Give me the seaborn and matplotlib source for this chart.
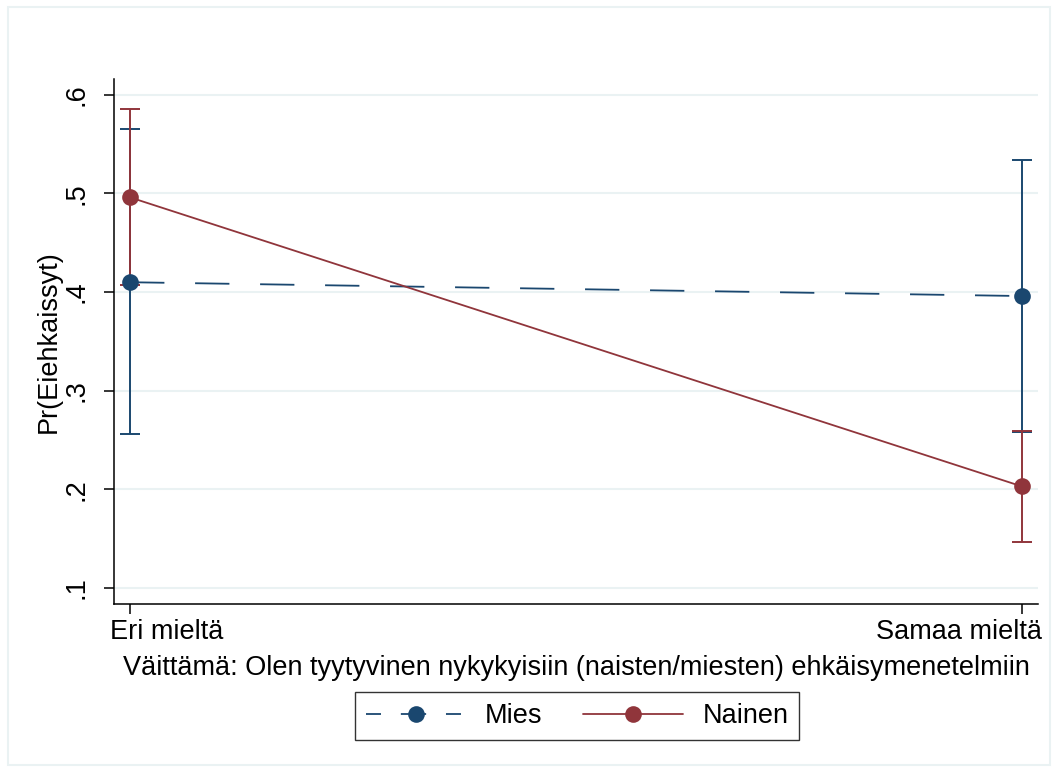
import numpy as np
import pandas as pd
import matplotlib
matplotlib.use("Agg")
import matplotlib.pyplot as plt
import matplotlib.transforms as mtransforms
from matplotlib.lines import Line2D
from matplotlib.patches import Rectangle
import seaborn as sns

categories = ["Eri mieltä", "Samaa mieltä"]
groups = ["Mies", "Nainen"]
mies_est = [0.410, 0.396]
mies_lo = [0.256, 0.258]
mies_hi = [0.565, 0.534]
nainen_est = [0.496, 0.203]
nainen_lo = [0.407, 0.147]
nainen_hi = [0.586, 0.259]
yticks = [0.1, 0.2, 0.3, 0.4, 0.5, 0.6]
ytick_labels = [".1", ".2", ".3", ".4", ".5", ".6"]

navy = "#1a476f"
maroon = "#90353b"
gridc = "#eaf2f3"
fs = 19.5

df = pd.DataFrame({
    "x": [0, 1, 0, 1],
    "est": mies_est + nainen_est,
    "lo": mies_lo + nainen_lo,
    "hi": mies_hi + nainen_hi,
    "group": ["Mies"] * 2 + ["Nainen"] * 2,
})

sns.set_style("white")
plt.rcParams["font.family"] = ["Liberation Sans", "DejaVu Sans"]
plt.rcParams["text.color"] = "black"
plt.rcParams["axes.labelcolor"] = "black"
plt.rcParams["xtick.color"] = "black"
plt.rcParams["ytick.color"] = "black"

fig = plt.figure(figsize=(10.59, 7.71), dpi=100)
ax = fig.add_axes([0.1077, 0.2166, 0.8725, 0.6809])

colors = {"Mies": navy, "Nainen": maroon}

# confidence intervals
for g in groups:
    d = df[df.group == g]
    ax.errorbar(d.x, d.est, yerr=[d.est - d.lo, d.hi - d.est], fmt="none",
                ecolor=colors[g], elinewidth=1.4, capsize=7, capthick=1.4,
                zorder=2)

sns.lineplot(data=df, x="x", y="est", hue="group", palette=colors,
             style="group", dashes={"Mies": (19, 17), "Nainen": ""},
             markers={"Mies": "o", "Nainen": "o"}, markersize=12,
             markeredgewidth=0, linewidth=1.3, legend=False, ax=ax,
             zorder=3)

ax.set_xlim(-0.018, 1.018)
ax.set_ylim(0.0838, 0.616)
ax.set_xticks([0, 1])
ax.set_xticklabels(categories, fontsize=fs)
ax.set_yticks(yticks)
ax.set_yticklabels(ytick_labels, fontsize=fs, rotation=90, va="center")
ax.tick_params(axis="both", which="both", direction="out", length=7,
               width=1.1, color="black", bottom=True, left=True)
ax.tick_params(axis="x", pad=4)
ax.tick_params(axis="y", pad=11)

# keep the end category labels inside the plot area, like Stata does
labs = ax.get_xticklabels()
labs[0].set_horizontalalignment("left")
labs[0].set_transform(labs[0].get_transform() +
                      mtransforms.ScaledTranslation(-20 / 100, 0, fig.dpi_scale_trans))
labs[1].set_horizontalalignment("right")
labs[1].set_transform(labs[1].get_transform() +
                      mtransforms.ScaledTranslation(20 / 100, 0, fig.dpi_scale_trans))

ax.yaxis.grid(True, color=gridc, linewidth=1.5)
ax.set_axisbelow(True)
for s in ["top", "right"]:
    ax.spines[s].set_visible(False)
for s in ["left", "bottom"]:
    ax.spines[s].set_color("black")
    ax.spines[s].set_linewidth(1.1)

ax.set_xlabel("Väittämä: Olen tyytyvinen nykykyisiin (naisten/miesten) ehkäisymenetelmiin",
              fontsize=fs, labelpad=7)
ax.set_ylabel("Pr(Eiehkaissyt)", fontsize=fs, labelpad=1)

handles = [
    Line2D([], [], color=navy, linewidth=1.3, dashes=(8.3, 11, 14, 11),
           marker="o", markersize=12, markeredgewidth=0),
    Line2D([], [], color=maroon, linewidth=1.3, marker="o", markersize=12,
           markeredgewidth=0),
]
leg = fig.legend(handles, groups, loc="center", bbox_to_anchor=(0.545, 0.0713),
                 ncol=2, fontsize=fs, frameon=True, fancybox=False,
                 handlelength=3.7, columnspacing=1.5, handletextpad=0.7,
                 borderpad=0.4, borderaxespad=0.2)
leg.get_frame().set_edgecolor("black")
leg.get_frame().set_linewidth(1.0)

fig.patches.append(Rectangle((8 / 1059, 6 / 771), 1042 / 1059, 758 / 771,
                             transform=fig.transFigure, fill=False,
                             edgecolor=gridc, linewidth=1.5))

fig.savefig("out.png", dpi=100)
